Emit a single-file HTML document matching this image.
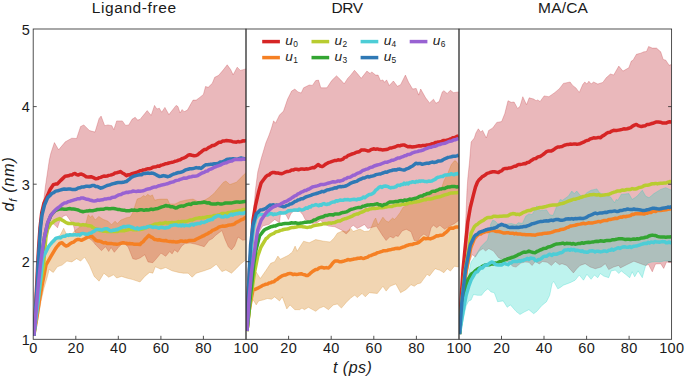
<!DOCTYPE html>
<html><head><meta charset="utf-8"><title>chart</title>
<style>
html,body{margin:0;padding:0;background:#fff;}
body{width:685px;height:377px;position:relative;overflow:hidden;font-family:"Liberation Sans",sans-serif;color:#1a1a1a;}
.t{position:absolute;white-space:nowrap;line-height:1;}
.ttl{font-size:15.5px;transform:translateX(-50%);top:0.3px;}
.xt{font-size:14.5px;transform:translateX(-50%);top:341.4px;letter-spacing:0.3px;margin-left:0.15px;}
.yt{font-size:14.5px;right:655.3px;transform:translateY(-50%);}
.lg{font-size:13.7px;font-style:italic;}
.lg sub{font-size:8.4px;font-style:normal;vertical-align:baseline;position:relative;top:1.7px;left:0.3px;}
.xl{font-size:16px;font-style:italic;letter-spacing:0.5px;transform:translateX(-50%);top:359.6px;left:352.7px;}
.yl{font-size:16px;font-style:italic;letter-spacing:0.85px;left:8.5px;top:183.9px;transform:translate(-50%,-50%) rotate(-90deg);}
.yl sub{font-size:11px;vertical-align:baseline;position:relative;top:3px;}
</style></head><body>

<svg width="685" height="377" viewBox="0 0 685 377" style="position:absolute;left:0;top:0">
<defs>
<clipPath id="c0"><rect x="33.2" y="29.0" width="212.8" height="310.3"/></clipPath>
<clipPath id="c1"><rect x="246.0" y="29.0" width="213.0" height="310.3"/></clipPath>
<clipPath id="c2"><rect x="459.0" y="29.0" width="212.6" height="310.3"/></clipPath>
</defs>
<g clip-path="url(#c0)">
<polygon points="33.8,335.8 36.0,300.0 38.0,262.0 40.0,235.0 42.0,215.0 45.3,187.0 49.3,160.0 50.9,153.0 54.4,142.6 58.6,149.8 65.3,141.8 71.8,138.2 76.6,138.5 80.6,126.5 83.8,124.9 89.4,130.5 95.0,132.1 99.1,118.5 101.1,116.1 104.7,125.7 107.9,124.9 111.9,125.7 113.8,129.7 116.7,120.9 122.3,120.9 125.6,125.4 128.8,124.9 132.0,119.3 135.2,117.3 137.6,120.1 140.0,119.4 147.2,110.6 151.2,115.4 154.5,105.4 156.9,109.0 159.3,108.2 161.7,112.2 164.9,107.4 168.9,114.6 176.1,105.4 178.0,106.6 180.1,113.0 182.1,109.5 184.2,111.7 187.4,110.1 193.0,100.1 196.2,100.1 199.4,97.7 203.4,94.5 205.5,86.5 208.2,87.3 212.3,83.3 214.7,77.3 218.7,75.3 223.5,69.6 227.2,64.8 230.7,69.6 233.1,74.8 237.2,67.2 240.4,70.4 246.3,68.8 246.3,239.5 242.8,240.3 238.0,237.0 234.7,245.9 231.5,249.9 228.3,246.7 225.1,239.5 221.9,230.6 215.5,235.4 212.3,238.7 209.1,240.3 204.2,246.7 196.2,244.3 190.0,243.0 185.0,243.5 181.8,245.9 177.7,252.3 174.5,249.9 172.1,253.9 169.7,251.5 165.7,256.3 160.9,253.1 157.7,257.1 152.8,262.7 148.0,261.9 144.8,254.7 140.0,258.0 136.0,259.5 132.8,258.7 128.0,246.7 123.1,242.7 118.3,247.5 114.3,252.3 111.1,247.5 108.7,251.5 105.5,246.7 101.5,250.7 95.8,245.0 92.6,241.0 83.0,233.8 75.0,232.2 74.2,228.2 73.3,225.1 71.5,222.5 69.8,219.9 66.3,215.0 62.8,216.4 59.3,222.5 57.5,227.8 54.9,225.1 50.5,220.8 47.0,228.0 44.0,245.0 41.5,265.0 39.0,290.0 36.0,318.0 33.8,335.8" fill="rgb(189,33,42)" fill-opacity="0.32" stroke="rgb(189,33,42)" stroke-opacity="0.35" stroke-width="0.7" stroke-linejoin="round"/>
<polygon points="33.8,335.8 37.0,310.0 40.0,285.0 43.0,265.0 46.0,252.0 50.0,245.0 55.0,240.0 60.5,234.6 63.7,228.2 66.9,235.4 70.0,236.0 75.0,230.4 80.0,227.0 85.8,223.5 88.2,214.8 90.5,217.1 92.3,215.4 95.2,220.0 98.7,216.5 103.4,219.5 108.0,221.2 111.5,224.7 115.0,221.2 117.4,223.5 120.9,220.0 126.7,217.7 130.2,217.1 132.6,213.0 134.9,206.0 137.2,199.0 140.7,197.8 143.7,195.5 145.4,196.7 147.7,194.3 150.1,196.1 152.4,194.9 154.7,200.2 157.1,199.6 160.9,199.1 167.3,199.1 169.7,203.9 175.0,204.0 180.1,201.5 186.6,199.9 193.0,199.1 197.8,201.5 204.0,200.5 209.1,197.5 213.9,193.5 218.7,187.8 223.5,182.2 225.9,181.1 229.9,184.6 236.4,182.2 242.8,175.8 246.3,172.4 246.3,259.5 241.2,263.5 236.4,268.4 231.5,273.2 225.9,270.0 221.9,271.6 216.3,264.3 210.7,268.4 204.2,270.8 196.2,273.2 192.2,277.2 188.2,273.2 183.4,273.2 178.5,272.4 172.1,270.8 165.7,267.6 160.9,269.2 155.3,266.8 152.8,273.2 149.6,272.4 144.8,276.4 140.0,282.0 132.8,279.6 126.4,278.0 121.5,276.4 116.7,278.0 113.5,274.8 108.7,277.2 103.9,273.2 99.1,281.2 94.2,276.4 89.4,265.1 84.6,257.1 80.6,261.1 76.6,258.7 71.8,261.9 66.9,261.1 62.1,265.1 57.3,266.8 53.3,272.4 51.0,271.0 49.3,269.0 47.0,278.0 44.0,288.0 41.3,300.0 38.0,318.0 33.8,335.8" fill="rgb(211,124,14)" fill-opacity="0.32" stroke="rgb(211,124,14)" stroke-opacity="0.35" stroke-width="0.7" stroke-linejoin="round"/>
<polyline points="33.8,335.8 35.0,316.0 36.0,298.0 37.0,280.0 37.8,262.0 38.8,245.0 40.0,228.0 41.7,213.0 44.0,203.0 46.9,196.7 47.7,195.1 50.1,189.5 53.3,184.7 55.3,184.1 57.3,183.9 58.9,182.3 60.5,180.6 62.1,179.1 65.1,176.2 66.8,176.0 68.4,175.8 70.1,175.0 71.8,175.1 73.4,173.9 75.0,173.5 76.6,174.6 78.2,175.1 79.8,174.3 81.4,174.0 83.8,175.1 86.2,176.7 88.6,177.1 91.0,176.7 93.4,177.7 95.8,178.8 97.4,178.6 99.0,177.7 100.7,177.4 102.3,176.7 103.9,176.1 105.5,176.2 107.1,176.1 108.7,175.4 110.3,175.1 111.9,174.7 113.5,174.1 115.1,172.9 116.7,172.7 118.5,172.3 120.3,171.5 122.3,172.9 124.4,174.1 126.4,175.6 128.0,174.7 129.6,174.9 131.2,174.0 132.8,173.5 134.6,173.0 136.4,172.5 138.2,171.7 140.0,170.8 141.6,170.8 143.2,169.9 144.8,169.8 146.4,169.1 148.0,168.7 149.6,168.7 151.2,168.3 152.9,167.2 154.5,166.9 156.1,166.8 157.7,166.0 159.3,166.2 160.9,165.2 162.5,164.9 164.1,164.3 165.7,163.7 167.3,163.5 168.9,163.0 170.5,162.6 172.1,162.3 173.7,161.8 175.3,161.2 176.9,160.9 178.6,160.1 180.2,159.7 181.8,158.7 183.4,158.2 185.0,157.5 186.6,156.5 188.2,155.2 189.8,154.7 191.9,155.3 194.1,155.7 196.2,155.5 197.8,154.7 199.4,153.2 201.0,152.1 202.6,150.7 204.2,149.6 205.8,149.4 207.5,148.4 209.1,147.3 210.7,146.7 212.3,145.5 213.9,145.4 215.5,144.7 217.1,143.5 219.0,142.3 220.8,142.2 222.7,141.1 224.6,140.9 226.4,140.5 228.3,140.7 230.4,140.9 232.6,141.7 234.7,141.9 236.3,142.2 238.0,141.5 239.6,141.9 241.3,141.6 242.9,140.7 244.6,140.9 246.3,140.3" fill="none" stroke="#d62525" stroke-width="3.5" stroke-linejoin="round" stroke-linecap="butt"/>
<polyline points="33.8,335.8 36.5,320.0 39.5,300.0 42.5,283.0 46.0,265.0 50.9,256.4 55.7,248.4 57.7,245.8 59.7,243.5 62.1,242.7 64.1,244.7 66.1,246.0 68.0,245.3 69.9,243.8 71.8,242.7 73.7,242.1 75.5,240.4 77.4,239.5 79.4,239.5 81.4,240.3 83.8,239.2 86.2,237.9 88.1,236.9 89.9,236.6 91.8,236.3 93.8,238.2 95.8,240.3 97.4,240.9 99.0,241.0 100.7,241.4 102.3,242.3 103.9,242.9 105.5,242.6 107.1,243.4 108.7,243.6 110.3,243.5 111.9,243.6 113.5,243.9 115.1,244.1 116.7,244.3 118.8,243.9 121.0,243.3 123.1,242.7 124.7,243.0 126.3,243.2 128.0,243.7 129.6,243.5 131.2,243.7 132.8,243.8 134.4,244.3 136.0,244.3 138.0,244.2 140.0,244.5 141.6,242.7 143.2,241.6 144.8,239.5 146.8,237.5 148.8,235.4 150.7,236.8 152.6,237.7 154.5,239.5 156.1,239.6 157.7,240.0 159.3,239.7 160.9,240.3 162.5,240.6 164.1,240.8 165.7,240.5 167.3,241.1 168.9,241.4 170.5,241.4 172.1,241.7 173.7,241.6 175.3,241.9 176.9,242.0 178.5,241.8 180.2,241.1 181.8,241.0 183.4,241.4 185.0,241.1 186.9,241.4 188.8,240.6 190.8,240.6 192.7,240.5 194.6,240.3 196.2,239.3 197.8,238.5 199.4,237.7 201.0,237.0 202.6,236.1 204.2,235.5 205.9,234.4 207.5,233.8 209.1,232.7 210.7,232.0 212.3,230.4 213.9,229.8 215.5,229.1 217.1,228.4 218.7,227.2 220.3,226.6 222.4,226.1 224.6,226.3 226.7,225.8 228.3,225.2 229.9,224.9 231.5,224.8 233.1,224.5 234.7,223.8 236.3,222.3 238.0,221.6 239.6,220.8 241.3,219.7 242.9,219.3 244.6,218.0 246.3,217.1" fill="none" stroke="#f58024" stroke-width="3.5" stroke-linejoin="round" stroke-linecap="butt"/>
<polyline points="33.8,335.8 36.0,318.0 38.0,300.0 40.5,283.0 43.7,265.0 44.5,253.0 46.0,237.0 47.7,229.0 50.9,223.5 52.5,222.8 54.1,221.1 55.7,220.3 57.7,219.3 59.7,218.6 61.7,219.9 63.7,221.0 66.1,222.6 68.5,223.5 70.1,223.6 71.7,223.6 73.4,223.6 75.0,224.2 76.6,224.3 78.2,224.2 79.8,224.9 81.4,225.0 83.0,224.6 84.6,225.0 86.2,225.0 87.8,225.7 89.4,225.8 91.0,225.9 92.6,227.4 94.2,228.3 96.1,228.9 98.1,229.4 100.0,230.5 101.8,230.6 103.5,231.3 105.2,231.0 107.0,231.5 108.6,231.4 110.2,231.4 111.9,231.4 113.5,231.5 115.4,231.3 117.3,231.6 119.3,230.7 121.2,230.4 123.1,230.7 124.7,230.7 126.3,230.2 128.0,229.9 129.6,229.1 131.4,229.2 133.2,229.8 135.0,229.5 136.7,229.9 138.3,229.3 140.0,229.6 141.6,229.3 143.2,228.9 144.8,228.2 146.4,227.5 148.0,227.0 149.6,226.2 151.2,225.7 152.9,225.0 154.5,224.2 156.1,224.0 158.1,223.8 160.1,223.3 162.0,223.5 164.0,223.0 165.6,222.5 167.2,223.1 168.9,222.8 170.5,222.9 172.1,222.4 173.7,222.7 175.3,222.6 176.9,222.2 178.6,221.6 180.2,222.1 181.8,221.5 183.4,221.5 185.0,221.6 186.9,221.2 188.7,220.6 190.6,219.9 192.5,219.9 194.3,219.0 196.2,218.4 197.8,218.1 199.4,217.8 201.0,218.1 202.6,217.6 204.3,217.7 205.9,217.1 207.5,216.7 209.1,216.8 210.7,216.5 212.3,216.4 213.9,215.4 215.5,215.6 217.1,215.3 218.7,214.9 220.3,214.5 221.9,213.4 223.5,213.5 225.1,213.4 226.7,213.4 228.3,212.5 229.9,212.7 231.5,212.1 233.2,211.7 234.8,211.5 236.4,211.1 238.1,210.8 239.7,210.5 241.4,210.5 243.0,209.6 244.7,209.4 246.3,209.5" fill="none" stroke="#b8cc30" stroke-width="3.5" stroke-linejoin="round" stroke-linecap="butt"/>
<polyline points="33.8,335.8 35.5,318.0 37.0,300.0 38.5,283.0 40.4,265.0 42.0,253.0 44.5,237.0 47.7,223.0 50.9,215.5 52.5,213.4 54.1,211.7 55.7,210.3 58.5,209.3 60.3,208.7 62.1,208.9 64.2,209.3 66.4,209.2 68.5,208.8 70.1,208.6 71.7,209.1 73.4,209.1 75.0,209.3 76.6,209.6 78.2,210.0 79.8,210.8 81.4,211.3 83.0,211.7 84.6,211.4 86.2,211.1 87.8,211.0 89.4,210.6 91.0,210.8 92.6,210.8 94.2,210.4 95.8,210.0 97.4,209.5 99.0,209.4 100.7,209.3 102.3,209.2 103.9,209.2 105.5,208.5 107.1,208.4 108.7,208.8 110.3,208.7 111.9,208.6 113.5,208.6 115.1,208.8 116.7,209.1 118.3,209.6 119.9,209.6 121.6,210.1 123.2,210.2 124.8,210.3 126.4,210.8 128.1,210.7 129.8,210.7 131.5,210.0 133.2,210.2 134.9,210.1 136.6,210.4 138.3,210.3 140.0,209.8 141.6,209.7 143.2,210.2 144.8,210.2 146.4,209.7 148.0,210.0 149.6,209.7 151.2,209.1 152.9,209.5 154.5,209.1 156.1,208.7 158.0,208.4 159.9,207.7 161.9,206.9 163.8,206.4 165.7,205.5 167.3,206.0 168.9,205.9 170.5,206.8 172.1,206.7 173.7,207.2 175.3,207.9 176.9,207.7 178.5,206.7 180.2,206.3 181.8,205.9 183.4,206.2 185.0,205.5 186.9,204.7 188.8,204.1 190.8,204.4 192.7,203.2 194.6,203.1 196.5,203.2 198.4,202.8 200.4,202.7 202.3,202.6 204.2,202.0 205.8,202.5 207.4,203.0 209.1,202.7 210.7,203.8 212.3,203.9 214.2,203.9 216.0,204.0 217.9,203.4 219.8,203.9 221.6,204.0 223.5,203.6 225.4,203.0 227.3,203.0 229.3,203.1 231.2,203.1 233.1,202.6 234.8,202.2 236.4,202.0 238.1,202.0 239.7,202.2 241.3,202.1 243.0,201.7 244.7,201.5 246.3,201.5" fill="none" stroke="#33a532" stroke-width="3.5" stroke-linejoin="round" stroke-linecap="butt"/>
<polyline points="33.8,335.8 36.0,318.0 38.3,300.0 40.5,280.0 42.0,265.0 42.8,258.0 46.0,251.6 48.5,246.8 49.8,245.0 51.2,243.3 52.5,241.9 54.1,240.4 55.7,238.5 57.3,237.9 58.9,237.5 60.5,237.9 62.1,236.6 63.7,236.3 65.3,236.3 66.9,234.9 68.5,235.4 70.1,234.7 71.4,235.1 72.8,235.0 74.2,234.7 75.5,234.7 76.8,234.9 78.2,234.7 79.8,235.2 81.4,233.7 83.0,233.4 84.6,233.9 86.2,234.1 87.8,234.2 89.4,233.3 91.0,233.1 92.6,231.9 94.2,231.3 95.8,229.9 97.1,229.4 98.4,229.5 99.7,229.4 101.0,230.0 102.3,229.9 103.9,229.2 105.5,228.7 107.1,228.8 108.7,229.8 110.3,230.8 111.9,230.7 113.2,230.0 114.6,230.2 115.9,229.4 117.2,229.7 118.6,228.8 119.9,228.3 121.2,227.6 122.6,227.1 124.0,226.4 125.3,226.9 126.7,226.4 128.0,226.2 129.6,226.2 131.2,227.0 132.8,227.5 134.4,228.3 135.8,228.8 137.2,227.8 138.6,229.3 140.0,228.5 141.3,228.1 142.7,228.0 144.0,227.4 145.3,227.7 146.7,227.3 148.0,226.4 149.3,226.6 150.7,226.6 152.1,227.2 153.4,227.5 154.8,226.9 156.1,227.2 157.4,227.7 158.8,228.2 160.1,227.5 161.4,227.3 162.8,227.4 164.1,228.0 165.4,228.0 166.8,227.5 168.1,227.6 169.4,227.0 170.8,225.6 172.1,225.6 173.4,225.0 174.8,225.0 176.1,224.8 177.4,225.6 178.8,225.8 180.1,225.1 181.4,225.9 182.8,224.9 184.1,226.0 185.5,225.1 186.8,225.4 188.2,225.6 189.5,225.7 190.9,224.4 192.2,224.1 193.5,225.1 194.9,223.9 196.2,224.0 197.5,223.5 198.9,223.6 200.2,223.5 201.5,222.1 202.9,222.4 204.2,222.4 205.5,221.7 206.8,221.3 208.1,220.2 209.4,220.3 210.7,219.6 212.3,219.5 213.9,217.6 215.5,217.0 217.1,216.0 218.7,215.6 220.3,216.2 221.9,217.1 223.5,217.1 225.1,215.9 226.7,216.8 228.3,216.3 229.9,215.1 231.2,214.1 232.5,215.2 233.8,213.9 235.1,214.3 236.4,213.5 237.8,213.8 239.2,212.9 240.6,213.5 242.1,213.3 243.5,213.4 244.9,212.4 246.3,212.7" fill="none" stroke="#4dcdd6" stroke-width="3.5" stroke-linejoin="round" stroke-linecap="butt"/>
<polyline points="33.8,335.8 35.0,318.0 36.2,300.0 37.3,282.0 38.0,265.0 39.2,247.0 40.4,229.0 42.0,215.0 44.5,205.0 47.7,197.6 49.7,195.8 51.7,193.5 53.7,192.7 55.7,191.1 57.8,190.7 60.0,190.1 62.1,189.5 64.2,189.0 66.4,189.2 68.5,189.0 70.1,189.0 71.8,189.4 73.4,189.5 75.0,189.5 76.6,189.0 78.2,188.0 79.8,187.8 81.4,187.1 83.5,187.0 85.7,186.3 87.8,186.3 89.4,186.5 91.0,186.0 92.6,185.4 94.2,185.5 95.8,186.6 97.5,186.5 99.1,187.4 100.7,188.2 102.8,187.5 105.0,186.5 107.1,185.5 108.7,185.1 110.3,184.7 111.9,184.0 113.5,183.6 115.1,183.2 116.7,182.8 118.3,182.5 119.9,182.6 121.5,182.5 123.2,182.3 124.8,181.8 126.4,181.5 128.8,179.7 131.2,177.5 132.8,176.7 134.4,176.0 136.0,175.6 138.0,175.1 140.0,174.8 141.6,174.7 143.2,173.6 144.8,173.6 146.4,173.2 148.0,173.0 149.6,173.4 151.2,173.1 152.8,173.2 154.4,173.8 156.1,174.7 157.7,175.6 159.3,176.4 161.3,176.2 163.3,175.6 165.3,176.0 167.3,176.7 169.7,176.1 172.1,174.8 173.7,174.0 175.3,173.6 176.9,173.0 178.5,172.5 180.1,172.4 181.7,172.0 183.3,171.3 185.0,170.2 186.6,169.6 188.2,169.2 189.8,168.8 191.4,168.8 193.0,168.5 194.6,168.1 196.2,167.6 197.8,167.9 199.4,167.8 201.0,168.4 202.6,167.1 204.2,165.7 205.8,164.8 207.4,164.7 209.1,164.6 210.7,164.2 212.3,164.3 214.4,163.7 216.6,163.8 218.7,163.2 220.3,162.0 221.9,162.0 223.5,161.3 225.1,160.6 226.7,159.5 228.3,159.2 229.9,159.1 231.5,159.0 233.1,158.7 234.7,158.9 236.4,159.3 238.0,159.0 241.2,157.9 242.9,158.6 244.6,158.8 246.3,159.5" fill="none" stroke="#2f79b5" stroke-width="3.5" stroke-linejoin="round" stroke-linecap="butt"/>
<polyline points="33.8,335.8 35.5,318.0 37.0,300.0 38.5,283.0 40.4,265.0 42.0,253.0 44.5,237.0 47.7,222.7 50.9,215.0 52.5,213.5 54.1,211.4 55.7,209.6 57.8,208.0 60.0,206.4 62.1,204.5 64.2,203.1 66.4,202.8 68.5,201.6 70.1,201.2 71.8,200.6 73.4,200.1 75.0,199.6 76.6,199.2 78.2,198.7 79.8,198.7 81.4,197.9 83.0,198.0 84.9,198.6 86.8,199.3 88.8,199.6 90.7,200.3 92.6,200.8 94.2,201.1 95.8,200.8 97.5,200.0 99.1,200.4 100.7,200.0 102.6,199.8 104.5,199.0 106.5,198.9 108.4,198.5 110.3,198.4 111.9,197.4 113.5,197.2 115.1,197.0 116.7,196.0 118.8,194.9 121.0,194.5 123.1,193.2 124.7,193.0 126.3,192.2 128.0,192.5 129.6,191.9 131.2,191.8 132.8,191.1 134.6,191.3 136.4,191.4 138.2,191.1 140.0,191.3 141.6,191.1 143.2,190.8 144.8,190.2 146.4,189.4 148.0,189.0 149.6,188.8 151.2,188.2 152.9,187.4 154.5,187.0 156.1,187.0 158.1,186.0 160.1,185.5 162.0,184.9 164.0,184.6 165.6,184.1 167.2,183.8 168.9,183.1 170.5,182.5 172.1,182.1 173.7,181.7 175.3,180.8 176.9,180.4 178.6,180.1 180.2,179.3 181.8,178.8 183.7,178.1 185.6,178.3 187.6,177.7 189.5,177.0 191.4,176.7 193.0,176.3 194.6,176.2 196.2,176.0 197.8,175.6 199.9,174.3 202.1,173.0 204.2,172.4 205.8,171.3 207.4,171.1 209.1,169.7 210.7,169.2 212.3,168.4 213.9,167.5 215.5,166.8 217.1,166.1 218.7,165.7 220.3,165.1 222.4,164.0 224.6,163.1 226.7,162.7 228.3,161.8 229.9,161.3 231.6,161.1 233.2,160.2 234.8,159.6 236.4,159.5 238.1,159.4 239.7,159.3 241.4,159.5 243.0,158.9 244.7,159.2 246.3,159.2" fill="none" stroke="#9862d2" stroke-width="3.5" stroke-linejoin="round" stroke-linecap="butt"/>
</g>
<g clip-path="url(#c1)">
<polygon points="247.0,331.0 248.5,300.0 250.0,265.0 252.0,230.0 255.4,190.0 257.8,171.8 261.1,158.9 265.9,142.8 269.1,135.0 271.5,128.0 273.6,120.8 275.5,123.2 279.5,115.1 283.5,111.1 287.6,99.1 291.6,91.1 294.8,89.1 298.0,91.9 301.2,93.0 303.6,87.8 309.2,85.0 312.4,85.4 315.7,80.6 318.5,80.1 320.8,87.8 326.9,87.8 331.7,80.6 336.5,75.8 340.6,79.8 344.2,83.8 347.8,78.2 350.0,75.9 354.5,70.3 358.0,74.3 361.2,78.3 366.9,71.1 370.1,73.5 371.7,71.9 375.7,75.1 378.1,75.1 380.5,80.7 382.9,79.9 384.5,82.3 386.6,79.9 389.3,85.5 393.4,81.0 397.4,86.3 400.6,84.7 405.4,75.1 408.6,82.3 412.6,89.0 416.2,88.4 418.7,95.1 420.7,89.0 425.5,97.6 429.5,102.9 433.5,99.2 435.9,103.2 439.1,101.6 442.3,91.9 443.9,90.7 447.2,93.5 450.4,90.3 453.6,92.7 458.7,91.9 458.7,220.4 454.4,223.7 449.6,226.1 444.7,229.3 439.9,225.3 436.7,227.7 433.5,225.3 431.1,227.7 428.7,237.3 423.9,234.1 420.7,236.5 417.4,241.3 414.2,240.5 411.0,231.7 406.2,229.3 402.2,230.9 398.2,236.5 395.8,235.7 393.4,238.1 390.1,236.5 386.1,240.5 382.1,234.9 376.5,226.1 370.9,227.7 367.7,228.5 364.5,224.5 360.0,227.0 357.2,228.5 353.2,225.3 350.0,228.0 349.4,230.8 346.2,234.0 341.4,230.0 334.9,226.8 328.5,226.0 323.7,223.5 320.5,220.3 317.3,222.7 312.4,223.5 305.2,219.5 302.8,214.7 300.0,211.5 293.0,211.5 290.8,213.9 288.4,219.5 286.0,214.7 283.0,212.5 280.3,215.5 279.5,222.7 274.7,219.5 269.1,224.3 262.7,226.0 259.0,232.0 256.0,245.0 253.0,270.0 250.0,300.0 247.0,331.0" fill="rgb(189,33,42)" fill-opacity="0.32" stroke="rgb(189,33,42)" stroke-opacity="0.35" stroke-width="0.7" stroke-linejoin="round"/>
<polygon points="247.0,331.0 249.0,310.0 252.2,288.2 253.8,278.5 256.2,272.1 260.3,278.5 265.9,270.5 270.7,263.3 274.7,261.7 277.9,256.1 280.3,259.3 288.4,255.3 292.4,252.0 295.1,246.1 297.2,251.2 301.2,244.8 303.6,241.2 309.2,242.8 315.7,239.6 323.7,241.2 330.1,242.0 334.1,238.0 337.3,233.2 343.0,230.8 346.2,232.0 351.0,228.4 353.0,231.5 357.2,230.0 360.0,229.0 364.5,231.5 369.3,230.9 371.0,228.0 374.1,220.4 375.7,218.0 378.1,225.0 380.5,221.0 382.9,217.2 386.0,221.0 388.5,222.0 392.6,218.0 394.5,219.5 396.6,217.2 399.8,213.0 403.0,207.4 410.0,204.0 417.4,201.0 428.7,192.1 436.7,189.7 441.5,188.1 443.9,180.9 448.0,172.8 451.2,164.8 454.4,160.8 456.0,161.1 458.7,165.0 458.7,267.0 454.4,266.2 450.4,271.1 447.2,268.7 443.9,272.7 439.9,270.3 435.1,268.7 429.5,275.9 427.1,274.3 420.7,283.1 417.4,283.9 414.2,286.3 411.0,284.7 406.2,289.5 400.6,292.7 395.8,283.9 390.1,286.3 386.1,291.1 382.9,286.3 377.3,293.5 369.3,292.7 365.3,296.8 362.0,293.5 357.2,297.6 354.8,295.1 351.0,297.7 346.2,302.5 341.4,308.1 337.3,304.1 333.3,304.9 328.5,309.7 323.7,306.5 319.7,308.1 315.7,311.3 308.4,307.3 304.4,309.7 302.0,308.1 299.6,309.7 294.8,309.7 290.0,304.9 286.8,308.9 282.3,296.9 279.5,300.9 274.7,296.9 271.5,299.3 267.5,298.5 262.7,300.1 258.7,300.9 256.2,304.9 253.8,300.9 251.4,297.7 249.5,312.0 247.0,331.0" fill="rgb(211,124,14)" fill-opacity="0.32" stroke="rgb(211,124,14)" stroke-opacity="0.35" stroke-width="0.7" stroke-linejoin="round"/>
<polyline points="247.0,331.0 248.0,300.0 249.5,270.0 251.4,245.0 253.0,220.3 255.4,205.9 258.7,191.5 261.1,183.0 263.5,179.7 265.9,176.6 267.5,175.2 269.1,175.0 270.7,173.3 272.3,172.6 274.2,172.5 276.1,173.0 278.1,173.0 280.0,173.6 281.9,173.7 283.5,173.0 285.1,172.2 286.8,171.6 288.4,171.4 290.0,171.1 291.6,170.1 293.2,170.1 294.8,169.3 296.7,169.3 298.6,169.7 300.6,169.1 302.5,169.1 304.4,169.3 306.0,168.8 307.6,169.0 309.2,168.6 310.9,168.1 312.5,167.6 314.1,167.7 316.1,166.3 318.1,164.5 320.1,166.0 322.1,166.6 323.7,165.8 325.3,164.4 326.9,163.5 328.5,162.6 330.1,162.1 332.2,161.3 334.4,160.6 336.5,160.5 338.1,159.8 339.8,160.1 341.4,159.7 343.0,159.1 344.6,157.4 346.2,157.1 347.8,155.7 349.9,154.8 352.0,154.0 354.2,153.4 356.4,152.3 358.0,152.1 359.6,151.5 361.2,150.1 362.8,149.9 364.4,149.9 366.1,150.4 367.7,150.9 369.3,150.7 370.9,149.7 372.5,149.2 374.1,148.8 375.7,149.3 377.3,148.9 378.9,149.4 380.5,149.5 382.1,149.9 384.2,149.7 386.4,149.6 388.5,148.8 390.1,148.0 391.7,147.9 393.4,147.4 395.0,147.0 396.6,146.2 398.2,145.6 399.8,145.9 401.4,145.2 403.0,145.1 404.6,145.1 407.8,146.7 409.9,146.5 412.1,147.0 414.2,146.7 415.8,146.5 417.4,146.1 419.1,145.7 420.7,146.0 422.3,145.6 423.9,145.5 425.5,145.4 427.1,144.9 428.7,144.8 430.3,144.6 431.9,143.7 433.5,143.7 435.1,142.6 436.7,142.4 438.3,141.9 439.9,141.8 441.5,141.4 443.2,140.6 444.8,140.4 446.4,140.3 448.0,140.0 449.6,139.2 451.2,138.8 452.8,137.8 454.8,137.5 456.7,136.5 458.7,135.9" fill="none" stroke="#d62525" stroke-width="3.5" stroke-linejoin="round" stroke-linecap="butt"/>
<polyline points="247.0,331.0 249.0,312.0 251.4,298.0 253.0,289.8 254.6,289.6 256.2,288.9 257.8,288.2 259.4,287.3 261.0,286.5 262.7,285.4 264.3,284.9 265.9,284.2 267.5,284.1 269.1,282.9 270.7,282.8 272.3,281.9 273.9,281.8 275.5,280.2 277.1,279.5 278.7,277.9 280.3,276.9 281.9,275.9 283.5,275.3 285.2,275.1 286.8,274.4 288.4,273.7 290.0,273.4 291.6,273.8 293.2,274.6 294.8,274.1 296.4,274.5 298.0,274.3 299.6,273.9 301.2,273.7 302.8,274.4 304.4,274.7 306.0,275.4 307.6,275.6 309.2,274.4 310.9,272.8 312.5,271.5 314.1,270.5 315.7,269.5 317.3,269.5 318.9,268.2 320.5,267.5 322.1,267.3 324.2,268.0 326.4,267.6 328.5,268.1 330.6,266.1 332.8,262.9 334.9,260.9 336.5,261.1 338.1,261.1 339.8,261.8 341.4,261.7 343.0,261.3 344.6,260.8 346.2,260.4 347.8,259.6 349.9,259.9 352.0,259.6 354.0,259.0 356.0,258.8 358.0,258.2 359.6,258.2 361.2,257.8 362.9,258.5 364.5,258.2 366.1,257.6 367.7,257.1 369.3,255.9 370.9,255.6 372.5,254.8 374.1,254.2 375.7,253.8 377.3,252.7 378.9,252.4 380.5,251.9 382.1,251.4 383.7,250.7 385.3,250.7 387.0,250.6 388.6,249.9 390.2,249.8 391.8,249.3 393.7,249.1 395.6,248.4 397.6,248.2 399.5,248.5 401.4,247.7 403.0,247.0 404.6,246.6 406.2,245.7 407.8,245.3 409.4,244.7 411.0,244.5 412.6,244.4 414.2,243.7 415.9,243.4 417.5,243.0 419.1,242.1 421.5,240.2 423.9,238.1 425.5,238.7 427.1,238.5 428.7,238.6 430.3,238.9 432.4,238.2 434.6,237.1 436.7,235.7 438.3,235.9 439.9,235.3 441.5,235.3 443.1,234.9 444.7,233.2 446.4,232.1 448.0,230.5 449.6,228.5 451.4,228.0 453.2,228.3 455.1,227.3 456.9,226.9 458.7,226.9" fill="none" stroke="#f58024" stroke-width="3.5" stroke-linejoin="round" stroke-linecap="butt"/>
<polyline points="247.0,331.0 249.5,308.0 252.2,288.0 254.6,272.0 257.8,256.0 261.0,247.0 265.9,238.8 267.5,237.7 269.1,235.9 270.7,234.8 272.3,234.0 273.9,233.3 275.5,232.0 277.1,231.6 278.7,231.3 280.3,230.4 281.9,230.1 283.5,229.5 285.1,229.2 286.7,229.1 288.3,228.8 290.0,228.0 291.6,227.6 293.2,227.6 294.8,227.2 296.4,227.0 298.0,226.5 299.6,226.3 301.2,226.4 302.8,226.8 304.4,226.9 306.0,227.2 307.6,227.4 309.2,227.1 310.8,227.0 312.4,226.2 314.1,225.6 315.7,225.3 317.3,225.1 318.9,224.7 320.5,224.5 322.1,224.2 323.7,223.7 325.3,223.5 326.9,223.7 328.5,223.0 330.1,223.0 331.7,223.2 333.3,222.7 334.9,222.5 336.5,221.6 338.2,221.0 339.8,221.1 341.4,220.3 343.0,219.3 344.6,218.8 346.2,218.5 347.8,217.9 350.0,217.0 351.6,216.4 353.2,215.4 354.8,214.6 356.4,214.1 358.0,213.9 359.6,213.0 361.2,212.2 362.9,211.8 364.5,210.9 366.1,209.8 367.9,210.0 369.7,208.9 371.4,208.7 373.2,208.3 375.0,208.5 376.8,208.3 378.5,208.0 380.2,207.6 382.0,207.8 383.6,207.6 385.2,207.0 386.9,206.9 388.5,206.6 390.1,206.6 391.7,206.6 393.3,205.9 394.9,205.5 396.6,205.0 398.2,205.0 399.8,204.9 401.4,204.7 403.0,204.2 404.9,204.2 406.7,203.8 408.6,202.9 410.5,202.5 412.3,202.7 414.2,202.1 415.8,202.0 417.4,201.5 419.0,201.4 420.7,200.8 422.3,200.3 423.9,199.8 425.5,199.8 427.4,198.9 429.2,199.1 431.1,198.9 433.0,198.5 434.8,197.7 436.7,197.3 438.3,197.0 439.9,196.8 441.5,196.2 443.2,195.5 444.8,194.9 446.4,194.5 448.0,194.1 449.6,193.4 451.2,193.0 452.8,192.9 454.8,192.8 456.7,192.8 458.7,192.1" fill="none" stroke="#b8cc30" stroke-width="3.5" stroke-linejoin="round" stroke-linecap="butt"/>
<polyline points="247.0,331.0 249.5,305.0 252.2,280.0 253.8,264.0 256.0,250.0 259.5,236.0 261.1,234.0 262.7,231.9 264.3,230.0 266.4,228.8 268.6,227.8 270.7,226.8 272.3,226.6 273.9,225.9 275.5,225.9 277.1,225.1 278.7,224.5 280.3,224.3 281.9,224.2 283.5,223.7 285.1,223.5 286.7,223.6 288.4,223.4 290.0,223.3 291.6,222.7 293.7,223.1 295.9,222.8 298.0,223.5 299.6,223.3 301.2,223.1 302.8,222.8 304.4,222.3 306.0,222.3 308.1,222.1 310.3,221.9 312.4,221.1 314.0,219.9 315.6,219.7 317.3,218.6 318.9,217.9 320.5,217.3 322.1,217.1 323.7,216.5 325.3,215.5 327.4,215.4 329.6,214.7 331.7,214.7 333.3,214.9 334.9,214.0 336.5,214.0 338.1,213.9 339.7,213.8 341.4,212.9 343.0,212.5 344.6,212.3 346.4,211.9 348.2,211.0 350.0,209.8 351.6,209.2 353.2,208.9 354.8,208.4 356.4,207.9 358.0,207.6 359.6,207.4 361.2,207.4 362.8,206.2 364.5,206.0 366.1,205.5 367.7,205.0 369.3,205.0 370.9,204.8 372.5,204.7 374.1,204.5 375.7,204.1 377.3,203.7 378.9,204.7 380.5,204.7 382.1,205.8 384.2,204.5 386.4,204.1 388.5,202.6 390.1,202.0 391.7,202.0 393.4,202.0 395.0,201.6 396.6,201.6 398.2,201.4 399.8,200.7 401.4,200.6 403.0,201.0 404.6,200.0 406.2,200.4 407.8,199.8 409.7,199.1 411.6,199.4 413.6,198.7 415.5,198.3 417.4,197.7 419.0,196.7 420.6,196.0 422.3,196.0 423.9,194.8 425.5,194.5 427.1,193.6 428.7,193.5 430.3,192.9 431.9,191.5 433.5,191.3 435.1,191.2 436.7,190.4 438.3,189.8 439.9,189.0 441.5,188.9 443.1,188.4 444.7,188.6 446.4,187.6 448.0,187.0 449.6,187.0 451.4,186.6 453.2,186.5 455.1,186.6 456.9,187.0 458.7,186.5" fill="none" stroke="#33a532" stroke-width="3.5" stroke-linejoin="round" stroke-linecap="butt"/>
<polyline points="247.0,331.0 248.5,300.0 250.0,270.0 251.5,245.0 253.5,228.0 255.5,219.0 257.8,215.5 259.4,214.5 261.1,214.4 262.7,214.7 264.3,215.2 265.9,215.1 267.5,214.9 269.1,213.9 270.4,213.5 271.8,213.7 273.1,214.7 274.4,213.9 275.8,214.2 277.1,213.9 278.7,213.4 280.3,212.7 281.9,213.0 283.5,213.1 285.1,212.7 286.8,212.0 288.4,210.7 289.7,210.7 291.1,210.4 292.4,210.4 293.7,210.1 295.1,210.1 296.4,209.9 297.7,210.3 299.1,209.1 300.4,209.7 301.7,210.1 303.1,209.8 304.4,209.1 306.0,207.8 307.6,208.3 309.2,206.7 310.6,207.0 311.9,205.6 313.2,205.5 314.6,205.1 315.9,204.6 317.3,205.1 318.6,205.8 320.0,204.7 321.3,205.3 322.6,203.9 324.0,203.6 325.3,204.3 326.6,204.5 328.0,204.0 329.3,203.9 330.6,203.0 332.0,202.3 333.3,201.9 334.6,202.1 336.0,200.7 337.4,201.2 338.7,200.7 340.0,200.0 341.4,200.3 343.0,200.3 344.6,199.6 346.2,199.7 347.8,199.5 350.0,200.1 351.3,199.7 352.7,199.4 354.0,199.3 355.3,199.5 356.7,199.9 358.0,198.9 359.4,199.3 360.7,198.7 362.1,198.3 363.4,197.0 364.8,197.8 366.1,196.6 367.7,195.5 369.3,194.5 370.9,194.4 372.5,193.7 374.1,192.5 375.7,190.2 377.3,189.1 378.9,187.3 380.5,186.6 382.1,187.4 383.7,186.2 385.3,186.0 386.6,186.2 388.0,186.6 389.4,187.4 390.7,187.9 392.0,187.4 393.4,187.6 394.7,187.0 396.1,186.7 397.4,185.3 398.7,185.3 400.1,185.5 401.4,184.4 402.8,184.6 404.1,183.1 405.5,184.2 406.9,183.1 408.3,183.9 409.6,182.5 411.0,182.5 412.4,181.7 413.7,182.0 415.1,182.4 416.4,181.3 417.8,181.8 419.1,180.9 420.4,181.4 421.8,180.9 423.1,181.0 424.4,181.4 425.8,181.4 427.1,181.7 428.7,181.1 430.3,181.2 431.9,181.1 433.5,180.1 435.1,179.4 436.7,177.9 438.3,177.2 439.9,176.9 441.3,176.4 442.7,176.5 444.1,175.4 445.4,175.0 446.8,175.1 448.2,174.7 449.6,174.8 451.1,173.7 452.6,174.3 454.1,174.7 455.7,173.8 457.2,173.9 458.7,173.2" fill="none" stroke="#4dcdd6" stroke-width="3.5" stroke-linejoin="round" stroke-linecap="butt"/>
<polyline points="247.0,331.0 248.0,300.0 249.3,270.0 250.6,245.0 253.0,225.1 256.2,213.9 258.2,212.2 260.3,209.9 262.2,209.7 264.0,209.2 265.9,208.3 267.9,206.6 269.9,205.1 271.7,205.3 273.5,204.8 275.3,205.4 277.1,205.1 279.2,205.5 281.4,206.1 283.5,206.7 285.1,206.5 286.8,205.4 288.4,205.1 290.0,204.0 291.6,203.8 293.2,202.8 294.8,201.5 296.4,201.1 298.0,200.0 299.6,199.6 301.2,198.7 302.8,198.8 304.4,197.8 306.0,196.9 307.6,196.3 309.2,195.8 310.8,195.3 312.4,194.6 314.0,194.1 315.6,193.8 317.3,193.3 318.9,192.6 320.5,192.2 322.1,191.4 323.7,191.7 325.3,190.9 326.9,189.9 328.5,189.8 330.6,189.1 332.8,188.7 334.9,187.8 336.5,188.0 338.1,186.9 339.8,186.6 341.4,186.7 343.0,186.4 344.6,186.2 346.4,185.7 348.2,184.8 350.0,183.6 351.6,182.8 353.2,182.2 354.8,181.8 356.4,181.4 358.0,180.4 359.6,179.5 361.2,179.0 362.9,178.1 364.5,178.0 366.1,177.2 367.7,176.5 369.3,177.0 370.9,176.3 372.5,176.0 374.1,175.6 375.7,174.7 377.3,174.4 378.9,174.1 380.5,174.0 382.1,173.2 383.7,172.8 385.3,172.0 386.9,172.2 388.5,171.4 390.1,170.8 391.7,170.5 393.3,169.9 395.0,169.7 396.6,169.9 398.2,169.2 399.8,169.1 401.4,169.6 403.0,169.9 404.6,170.0 406.7,168.8 408.9,168.1 411.0,166.8 412.6,166.0 414.2,164.7 415.8,163.2 417.4,163.7 419.1,163.5 420.7,163.6 422.3,164.3 423.9,163.9 425.5,163.5 427.1,163.1 428.7,163.4 430.3,162.7 432.2,162.1 434.1,162.4 436.1,162.1 438.0,161.1 439.9,161.1 441.5,160.8 443.1,159.7 444.8,158.8 446.4,158.2 448.0,157.4 449.6,157.1 451.4,156.7 453.2,156.2 455.1,156.3 456.9,155.9 458.7,155.2" fill="none" stroke="#2f79b5" stroke-width="3.5" stroke-linejoin="round" stroke-linecap="butt"/>
<polyline points="247.0,331.0 249.0,300.0 251.5,272.0 255.4,245.0 257.8,230.0 261.1,220.3 265.9,213.1 267.5,211.3 269.1,210.2 270.7,208.8 272.3,207.5 273.9,206.6 275.5,206.0 277.1,205.4 278.7,205.1 280.3,204.3 281.9,203.4 283.6,202.4 285.2,201.6 286.8,201.1 288.9,199.7 291.1,198.4 293.2,197.0 294.8,195.8 296.4,195.3 298.0,193.9 299.6,193.3 301.2,192.2 302.8,191.7 304.4,190.6 306.0,190.5 307.6,189.5 309.2,189.0 312.4,187.0 314.0,186.6 315.6,186.3 317.2,185.9 318.9,185.3 320.5,184.6 322.1,184.6 324.0,184.4 325.9,184.0 327.9,183.2 329.8,182.8 331.7,182.2 333.3,181.7 334.9,182.0 336.5,181.6 338.2,180.9 339.8,181.2 341.4,180.6 343.0,180.2 344.6,178.9 346.2,178.6 347.8,177.4 350.0,177.2 351.6,176.4 353.2,175.3 354.8,175.0 356.4,173.9 358.0,173.2 359.6,172.6 361.2,171.7 362.9,170.4 364.5,170.0 366.1,169.2 367.7,168.9 369.3,167.9 370.9,167.3 372.5,167.0 374.1,166.0 375.7,165.5 377.3,165.0 378.9,164.6 380.5,164.3 382.1,163.5 383.7,162.8 385.3,162.2 386.9,162.3 388.5,161.6 390.1,161.1 391.7,160.3 393.3,160.2 395.0,159.5 396.6,158.6 398.2,157.9 399.8,157.9 401.4,157.2 403.0,156.7 404.6,155.8 406.2,155.5 407.8,154.4 409.4,154.4 411.0,153.8 412.6,152.8 414.2,152.3 415.8,151.9 417.4,151.6 419.1,150.9 420.7,150.7 422.3,150.3 423.9,149.6 425.5,148.8 427.1,148.3 429.0,147.4 430.9,147.3 432.9,146.5 434.8,146.3 436.7,145.6 438.3,144.8 439.9,144.5 441.5,143.9 443.2,143.6 444.8,143.3 446.4,142.7 448.2,141.8 449.9,141.2 451.7,141.0 453.4,140.1 455.2,139.8 456.9,139.0 458.7,138.7" fill="none" stroke="#9862d2" stroke-width="3.5" stroke-linejoin="round" stroke-linecap="butt"/>
</g>
<g clip-path="url(#c2)">
<polygon points="459.5,334.0 461.5,300.0 463.5,265.0 465.5,225.0 467.0,190.0 467.8,178.2 469.5,162.1 471.1,142.0 474.3,138.0 475.9,133.0 478.3,128.8 480.7,132.0 482.6,130.4 486.3,138.0 488.7,130.4 492.7,128.0 496.8,122.4 501.6,121.6 504.8,113.5 508.0,100.7 511.2,102.3 514.1,102.0 517.6,108.4 520.0,106.3 522.8,96.7 526.5,104.7 529.2,97.8 533.7,99.1 536.1,100.7 537.7,99.9 540.1,101.5 544.1,95.9 548.9,96.7 554.6,92.7 559.4,88.7 563.4,83.4 570.1,82.0 572.6,85.4 575.9,87.9 579.3,92.4 582.7,84.6 584.8,82.0 586.9,84.0 588.9,81.2 591.1,84.0 593.6,82.0 597.8,84.0 602.8,82.4 606.2,77.8 610.4,74.0 613.7,75.0 618.8,66.1 622.9,71.1 628.8,67.8 631.3,61.1 633.0,60.2 636.4,54.3 640.6,53.2 643.9,51.8 646.5,51.5 648.6,46.5 652.3,48.1 656.5,48.1 660.7,51.8 663.2,59.4 665.8,60.2 669.1,65.3 671.5,64.4 671.5,262.8 666.5,262.0 663.7,268.4 660.7,263.7 655.5,264.0 652.3,271.8 648.5,264.5 645.6,265.5 640.6,263.7 633.9,261.2 627.1,264.5 620.4,267.9 618.8,265.4 613.7,267.0 608.7,269.6 605.3,263.7 601.1,267.0 595.3,268.7 590.2,267.0 585.2,263.7 580.1,265.4 576.8,268.7 573.4,272.9 566.7,265.4 562.0,263.7 559.4,264.7 555.4,261.5 551.4,265.5 547.3,262.3 542.5,261.5 539.3,263.9 535.3,261.5 532.1,265.5 528.9,262.3 525.0,262.0 520.8,263.1 516.0,267.1 512.8,266.3 508.0,262.0 503.2,259.9 498.4,257.5 493.5,251.1 488.7,248.6 485.5,251.1 483.1,248.6 479.1,251.1 475.4,257.0 472.2,254.6 469.5,262.0 467.0,275.0 464.5,292.0 462.0,312.0 459.5,334.0" fill="rgb(189,33,42)" fill-opacity="0.32" stroke="rgb(189,33,42)" stroke-opacity="0.35" stroke-width="0.7" stroke-linejoin="round"/>
<polygon points="459.5,334.0 463.0,312.0 466.0,292.0 469.0,272.0 471.0,262.0 474.6,257.0 481.0,246.6 487.5,240.0 489.5,231.6 490.7,224.0 492.7,220.3 495.1,221.1 498.0,224.0 503.0,224.5 511.2,223.5 516.0,224.8 518.4,222.7 522.4,223.5 525.7,216.3 528.9,213.9 532.1,214.7 536.9,205.9 540.1,210.7 546.5,209.9 549.7,214.7 553.0,215.5 556.2,207.5 560.2,199.5 562.5,200.3 568.4,196.1 571.8,191.1 574.3,193.6 576.8,191.1 580.1,195.3 583.5,196.0 586.9,192.7 591.1,190.2 596.9,188.9 599.4,192.7 605.0,195.0 610.4,196.9 614.6,202.8 616.2,199.5 617.9,200.3 621.3,194.4 628.8,193.6 632.2,199.5 637.2,196.1 642.3,190.2 645.6,196.1 649.0,197.8 654.0,193.6 660.7,189.4 665.8,187.7 671.5,190.2 671.5,261.5 668.0,261.0 664.0,261.0 660.0,262.0 656.0,261.5 652.0,262.0 648.0,263.0 645.6,265.9 643.9,271.8 642.3,277.7 638.1,270.9 634.7,276.8 632.2,271.8 629.7,277.7 625.5,274.3 621.3,270.9 618.8,273.5 615.4,270.1 611.2,270.9 608.7,277.7 603.6,276.0 600.3,273.5 597.8,277.7 594.4,275.1 591.1,279.3 586.9,274.3 583.5,280.2 579.3,275.1 575.1,280.2 570.1,282.7 563.4,285.2 560.0,287.7 557.8,288.8 553.8,281.6 552.2,283.2 549.7,295.3 546.5,301.7 541.7,305.7 536.9,311.3 533.7,313.7 528.9,309.7 524.1,312.1 520.0,314.5 516.0,311.3 510.4,304.9 507.2,307.3 503.2,300.9 497.6,301.7 494.3,292.8 491.1,292.0 487.9,288.8 484.7,291.2 481.5,295.3 477.5,295.3 473.5,294.5 471.1,300.1 468.7,300.9 466.2,305.7 463.0,320.1 459.5,334.6" fill="rgb(14,210,192)" fill-opacity="0.27" stroke="rgb(14,210,192)" stroke-opacity="0.35" stroke-width="0.7" stroke-linejoin="round"/>
<polyline points="459.5,334.0 461.0,300.0 463.0,270.0 465.4,245.0 467.8,221.9 470.3,207.5 473.5,194.6 475.5,187.0 477.5,182.0 479.1,179.8 480.7,178.4 482.3,176.6 483.9,175.9 485.5,174.8 487.1,173.4 489.0,172.9 490.8,172.2 492.7,171.8 494.6,171.7 496.5,172.1 498.4,172.6 500.0,171.4 501.6,170.9 503.2,169.2 504.8,168.5 506.9,168.6 509.1,167.9 511.2,167.7 512.8,167.0 514.4,166.2 516.0,166.2 517.6,164.9 519.2,164.5 520.8,164.4 522.5,164.1 524.1,163.6 525.7,163.7 527.3,162.5 528.9,162.2 530.5,161.1 532.1,160.1 533.7,158.9 535.8,158.5 538.0,156.9 540.1,156.5 542.2,155.1 544.4,153.5 546.5,151.7 548.1,151.1 549.8,150.9 551.4,150.9 553.0,150.1 555.4,148.3 557.8,146.9 559.9,146.9 562.0,146.5 564.4,145.2 566.7,144.6 568.4,144.6 570.0,144.1 571.7,144.2 573.4,144.1 575.1,143.9 576.8,144.2 578.4,144.0 580.1,143.7 581.8,142.9 583.5,142.2 585.2,141.2 586.9,140.5 588.6,140.1 590.2,138.9 591.9,138.5 593.6,137.8 595.3,137.9 597.0,137.7 598.6,137.4 600.3,137.8 602.3,136.1 604.2,135.1 606.2,133.6 608.1,132.5 610.0,132.2 611.8,131.1 613.7,130.3 615.4,130.6 617.0,130.4 618.7,130.1 620.4,129.8 622.1,129.4 623.8,128.8 625.4,129.0 627.1,128.8 628.8,128.3 630.7,127.7 632.6,126.1 634.5,125.1 636.4,124.4 638.1,125.6 639.7,126.1 641.4,126.6 643.3,126.0 645.2,125.7 647.1,124.6 649.0,124.4 650.9,123.8 652.8,123.3 654.6,122.6 656.5,121.9 658.4,121.9 660.3,122.2 662.2,122.9 664.1,123.1 666.0,123.1 667.8,122.2 669.6,121.8 671.5,121.9" fill="none" stroke="#d62525" stroke-width="3.5" stroke-linejoin="round" stroke-linecap="butt"/>
<polyline points="459.5,334.0 462.5,300.0 466.0,272.0 470.8,247.5 474.3,238.8 477.5,235.2 479.1,234.1 480.7,234.0 482.3,232.9 483.9,232.3 485.5,231.6 487.6,231.6 489.8,230.8 491.9,230.3 493.5,230.5 495.2,231.2 496.8,231.4 498.9,231.5 501.1,232.2 503.2,232.9 504.8,233.1 506.4,232.7 508.0,232.7 509.6,233.2 511.2,233.2 512.8,233.2 514.4,233.9 516.0,233.3 517.6,234.1 519.2,234.0 520.8,234.1 522.4,234.6 524.1,234.4 525.7,234.8 527.3,234.8 528.9,234.7 530.5,234.7 532.1,235.0 533.7,235.1 535.3,235.2 536.9,234.5 538.5,234.2 540.1,234.1 541.7,234.0 543.3,233.4 544.9,233.3 546.5,233.3 548.2,233.0 549.8,232.8 551.4,232.4 553.0,231.8 554.6,231.1 556.2,230.7 557.8,230.5 559.4,230.2 561.3,229.4 563.1,229.3 565.0,228.7 566.7,227.6 568.4,227.2 570.1,226.1 571.8,225.9 573.4,225.6 575.1,225.3 576.8,224.8 578.4,224.4 580.1,224.1 581.8,223.7 583.5,223.3 585.2,223.8 586.8,223.4 588.5,222.8 590.2,223.0 591.9,223.1 593.6,222.6 595.3,222.3 596.9,221.9 598.6,221.4 600.3,221.9 602.0,221.2 603.7,220.6 605.3,220.4 607.0,220.6 608.7,219.5 610.4,219.5 612.0,219.1 613.7,218.8 615.4,218.2 617.1,218.5 618.7,217.7 620.4,217.1 622.1,217.2 623.8,216.4 625.4,216.7 627.1,216.2 628.8,216.0 630.5,215.6 632.1,214.3 633.8,214.4 635.5,213.7 637.2,213.6 638.9,213.8 640.5,213.8 642.2,213.8 643.9,214.1 645.6,213.3 647.3,213.3 648.9,212.3 650.6,212.6 652.3,211.7 654.0,211.0 655.7,211.6 657.3,210.6 659.0,210.3 660.7,210.4 662.5,210.3 664.3,209.9 666.1,209.8 667.9,209.3 669.7,209.1 671.5,208.7" fill="none" stroke="#f58024" stroke-width="3.5" stroke-linejoin="round" stroke-linecap="butt"/>
<polyline points="459.5,334.0 462.0,300.0 465.0,272.0 469.5,245.0 471.1,233.2 474.3,226.8 475.9,225.1 477.5,224.2 479.1,222.7 481.2,221.4 483.4,220.4 485.5,218.7 487.1,217.8 488.7,217.4 490.3,217.4 491.9,217.2 493.5,216.3 495.1,216.2 496.7,216.5 498.4,216.4 500.0,216.2 501.6,216.3 503.7,216.1 505.9,216.1 508.0,215.8 510.4,214.3 512.8,213.6 514.4,213.7 516.0,214.4 517.6,214.2 519.2,214.7 520.8,213.9 522.4,212.9 524.1,212.2 525.7,211.6 527.3,210.7 528.9,210.5 530.5,210.4 532.1,209.5 533.7,208.9 535.3,208.8 536.9,208.3 538.5,207.8 540.1,207.6 541.7,207.5 543.8,207.0 546.0,206.5 548.1,205.9 549.7,205.5 551.3,205.3 553.0,205.1 554.6,205.0 556.2,205.1 558.1,204.6 560.1,203.8 562.0,203.5 564.1,203.0 566.3,202.0 568.4,201.1 570.1,200.5 571.8,200.0 573.4,199.2 575.1,199.3 576.8,198.6 578.5,198.3 580.2,197.5 581.8,197.3 583.5,196.4 585.2,196.1 586.9,195.5 588.6,195.2 590.2,194.8 591.9,194.8 593.6,194.4 595.3,194.7 597.0,195.0 598.6,194.6 600.3,195.4 602.0,195.3 603.7,195.1 605.4,194.7 607.0,194.6 608.7,194.4 610.4,193.7 612.1,192.8 613.7,192.3 615.4,191.9 617.1,191.1 618.8,191.0 620.4,190.9 622.1,190.0 623.8,190.3 625.4,190.0 627.1,189.4 628.8,189.4 630.5,189.5 632.2,188.6 633.8,189.0 635.5,189.0 637.2,188.5 638.9,187.5 640.6,187.3 642.2,186.9 643.9,185.7 645.6,185.2 647.3,185.2 649.0,185.0 650.6,184.3 652.3,183.8 654.0,183.8 655.7,183.4 657.4,183.9 659.0,183.4 660.7,183.2 662.4,183.2 664.2,182.9 666.0,183.0 667.9,182.1 669.7,181.6 671.5,181.8" fill="none" stroke="#b8cc30" stroke-width="3.5" stroke-linejoin="round" stroke-linecap="butt"/>
<polyline points="459.5,334.0 462.0,310.0 465.4,288.0 467.8,280.0 471.1,274.3 473.5,272.7 475.9,270.3 477.5,269.1 479.1,268.2 480.7,267.7 482.3,266.3 483.9,265.6 485.5,264.9 487.1,264.7 489.2,264.8 491.4,263.9 493.5,263.9 495.1,263.1 496.8,263.2 498.4,262.3 500.0,261.5 501.6,261.6 503.2,260.7 504.8,259.9 506.4,259.3 508.0,258.6 509.6,258.3 511.7,257.5 513.9,256.8 516.0,255.9 518.1,254.7 520.3,253.8 522.4,252.7 524.0,252.1 525.6,252.2 527.3,251.9 528.9,251.1 531.0,251.9 533.2,252.5 535.3,252.7 536.9,251.5 538.5,250.9 540.1,250.0 541.7,249.5 543.8,248.4 546.0,248.3 548.1,247.0 549.7,246.8 551.4,246.2 553.0,245.3 554.6,244.6 556.7,243.9 558.9,243.8 561.0,243.5 562.9,243.1 564.7,243.9 566.5,243.3 568.4,243.5 570.1,243.4 571.8,244.1 573.4,243.5 575.1,244.2 576.8,243.9 578.5,243.5 580.2,243.6 581.8,242.8 583.5,243.3 585.2,242.7 586.9,242.4 588.6,242.2 590.2,242.4 591.9,242.1 593.6,241.9 595.3,241.5 597.0,241.2 598.6,241.4 600.3,240.8 602.0,241.0 603.7,241.2 605.4,240.7 607.0,240.4 608.7,240.4 610.4,240.5 612.1,239.8 613.8,239.7 615.4,239.5 617.1,239.1 618.8,238.8 620.5,238.8 622.1,238.8 623.8,239.1 625.4,239.5 627.1,239.3 628.8,239.2 630.5,239.5 632.1,239.3 633.8,239.0 635.5,239.3 637.2,238.7 638.9,239.0 640.5,238.3 642.2,237.9 643.9,237.7 645.6,237.2 647.3,237.0 648.9,236.0 650.6,235.5 652.3,235.1 654.0,235.4 655.6,235.5 657.3,236.4 659.0,236.8 660.7,236.9 662.4,237.0 664.1,237.1 665.8,237.2 667.7,237.0 669.6,237.1 671.5,236.8" fill="none" stroke="#33a532" stroke-width="3.5" stroke-linejoin="round" stroke-linecap="butt"/>
<polyline points="459.5,334.0 463.0,312.0 466.2,295.0 468.7,286.4 471.1,280.0 474.3,274.3 475.9,272.2 477.5,271.9 479.1,269.5 480.7,267.8 482.3,268.0 483.9,266.3 485.5,264.9 487.1,265.2 488.7,263.9 490.0,263.0 491.4,262.1 492.7,262.3 494.1,263.2 495.4,264.5 496.8,264.7 498.4,265.1 500.0,264.9 501.6,264.9 503.2,263.9 504.8,263.4 506.4,264.2 508.0,264.7 509.6,263.0 511.2,263.0 512.8,261.5 514.4,261.2 516.0,261.5 517.6,261.4 519.2,260.7 520.5,261.3 521.8,260.5 523.1,260.6 524.4,259.7 525.7,259.4 527.3,258.4 528.9,259.5 530.5,257.9 532.1,258.3 533.7,258.4 535.3,260.5 536.9,260.7 538.5,259.5 540.1,259.4 541.7,258.3 543.3,256.7 544.9,256.2 546.5,256.3 548.1,255.1 549.4,254.2 550.7,254.8 552.0,255.4 553.3,254.0 554.6,254.3 556.0,254.3 557.3,254.0 558.6,253.4 560.0,252.8 561.4,252.7 562.8,252.0 564.2,250.3 565.6,250.0 567.0,250.0 568.4,249.4 569.8,250.3 571.2,249.2 572.6,250.0 574.0,249.4 575.4,250.7 576.8,250.3 578.2,250.5 579.6,250.9 581.0,251.4 582.4,250.7 583.8,252.0 585.2,251.9 586.6,252.3 588.0,252.2 589.4,251.1 590.8,250.9 592.2,250.7 593.6,251.1 595.0,251.9 596.4,251.2 597.8,251.2 599.2,251.5 600.6,251.9 602.0,251.6 603.4,251.1 604.8,250.9 606.2,251.4 607.6,251.2 609.0,250.2 610.4,250.3 611.8,249.1 613.2,250.2 614.6,249.4 616.0,248.7 617.4,248.0 618.8,247.7 620.2,248.4 621.6,247.4 623.0,247.0 624.3,246.7 625.7,247.0 627.1,247.2 628.5,247.2 629.9,246.6 631.3,247.4 632.7,246.7 634.1,246.2 635.5,246.1 636.9,245.9 638.3,245.4 639.7,245.0 641.1,244.4 642.5,244.0 643.9,243.5 645.3,243.3 646.7,243.6 648.1,242.3 649.5,243.1 650.9,242.1 652.3,242.2 653.7,242.7 655.1,241.4 656.5,242.0 657.9,241.9 659.3,242.3 660.7,241.9 662.1,241.6 663.4,241.8 664.8,241.8 666.1,242.7 667.5,242.8 668.8,242.0 670.1,242.5 671.5,243.2" fill="none" stroke="#4dcdd6" stroke-width="3.5" stroke-linejoin="round" stroke-linecap="butt"/>
<polyline points="459.5,334.0 462.0,300.0 465.5,270.0 470.3,245.0 474.3,236.4 475.9,234.8 477.5,234.1 479.1,232.4 481.2,231.6 483.4,230.9 485.5,230.0 487.6,229.3 489.8,229.1 491.9,228.4 493.5,228.2 495.2,227.7 496.8,227.1 498.4,225.7 500.0,225.2 501.6,224.3 503.7,225.2 505.9,225.8 508.0,227.1 510.1,227.5 512.3,227.3 514.4,227.6 516.5,227.2 518.7,227.4 520.8,227.1 522.4,226.9 524.0,226.5 525.7,226.5 527.3,225.9 528.9,225.3 530.5,224.6 532.1,223.7 533.7,223.5 535.8,222.9 538.0,222.1 540.1,221.6 541.7,221.5 543.3,221.3 544.9,220.9 546.5,220.8 548.1,221.1 549.7,220.5 551.3,220.1 553.0,220.5 554.6,219.9 556.2,219.5 558.1,219.5 560.1,220.2 562.0,220.3 564.1,219.9 566.3,218.9 568.4,218.8 570.1,219.0 571.8,218.6 573.4,219.2 575.1,218.5 576.8,218.8 578.5,218.4 580.2,218.2 581.8,218.6 583.5,218.4 585.2,217.9 586.9,217.1 588.6,215.9 590.2,215.3 591.9,214.7 593.6,213.7 595.3,213.1 597.0,213.7 598.6,213.4 600.3,212.9 602.0,213.0 603.7,212.6 605.3,212.3 607.0,212.4 608.7,211.7 610.4,211.4 612.1,211.4 613.8,211.1 615.4,211.1 617.1,211.6 618.8,211.2 620.5,210.4 622.1,210.5 623.8,209.8 625.4,209.8 627.1,209.0 628.8,209.3 630.5,209.4 632.1,209.6 633.8,209.0 635.5,209.5 637.2,209.5 638.9,209.7 640.5,210.0 642.2,210.4 643.9,210.4 645.6,210.3 647.3,209.8 648.9,209.5 650.6,208.9 652.3,208.3 654.0,208.3 655.7,208.5 657.3,208.8 659.0,208.9 660.7,208.7 662.5,208.2 664.3,207.9 666.1,207.8 667.9,207.1 669.7,207.4 671.5,206.7" fill="none" stroke="#2f79b5" stroke-width="3.5" stroke-linejoin="round" stroke-linecap="butt"/>
</g>
<g stroke="#333" stroke-width="0.85" fill="none">
<rect x="33.2" y="29.0" width="212.8" height="310.3"/>
<rect x="246.0" y="29.0" width="213.0" height="310.3"/>
<rect x="459.0" y="29.0" width="212.6" height="310.3"/>
<line x1="75.8" y1="339.3" x2="75.8" y2="335.8"/>
<line x1="118.3" y1="339.3" x2="118.3" y2="335.8"/>
<line x1="160.9" y1="339.3" x2="160.9" y2="335.8"/>
<line x1="203.4" y1="339.3" x2="203.4" y2="335.8"/>
<line x1="33.2" y1="261.7" x2="36.7" y2="261.7"/>
<line x1="33.2" y1="184.2" x2="36.7" y2="184.2"/>
<line x1="33.2" y1="106.6" x2="36.7" y2="106.6"/>
<line x1="288.6" y1="339.3" x2="288.6" y2="335.8"/>
<line x1="331.2" y1="339.3" x2="331.2" y2="335.8"/>
<line x1="373.8" y1="339.3" x2="373.8" y2="335.8"/>
<line x1="416.4" y1="339.3" x2="416.4" y2="335.8"/>
<line x1="246.0" y1="261.7" x2="249.5" y2="261.7"/>
<line x1="246.0" y1="184.2" x2="249.5" y2="184.2"/>
<line x1="246.0" y1="106.6" x2="249.5" y2="106.6"/>
<line x1="501.5" y1="339.3" x2="501.5" y2="335.8"/>
<line x1="544.0" y1="339.3" x2="544.0" y2="335.8"/>
<line x1="586.6" y1="339.3" x2="586.6" y2="335.8"/>
<line x1="629.1" y1="339.3" x2="629.1" y2="335.8"/>
<line x1="671.6" y1="261.7" x2="668.1" y2="261.7"/>
<line x1="671.6" y1="184.2" x2="668.1" y2="184.2"/>
<line x1="671.6" y1="106.6" x2="668.1" y2="106.6"/>
</g>
<line x1="262.2" y1="41.6" x2="279.9" y2="41.6" stroke="#d62525" stroke-width="3.5"/>
<line x1="262.2" y1="57.6" x2="279.9" y2="57.6" stroke="#f58024" stroke-width="3.5"/>
<line x1="311.5" y1="41.6" x2="329.2" y2="41.6" stroke="#b8cc30" stroke-width="3.5"/>
<line x1="311.5" y1="57.6" x2="329.2" y2="57.6" stroke="#33a532" stroke-width="3.5"/>
<line x1="360.6" y1="41.6" x2="378.3" y2="41.6" stroke="#4dcdd6" stroke-width="3.5"/>
<line x1="360.6" y1="57.6" x2="378.3" y2="57.6" stroke="#2f79b5" stroke-width="3.5"/>
<line x1="409.7" y1="41.6" x2="427.4" y2="41.6" stroke="#9862d2" stroke-width="3.5"/>
</svg>
<div class="t ttl" style="left:134.2px;letter-spacing:0.6px">Ligand-free</div>
<div class="t ttl" style="left:347.1px;letter-spacing:-0.4px">DRV</div>
<div class="t ttl" style="left:563.1px;letter-spacing:0.2px">MA/CA</div>
<div class="t xt" style="left:33.2px">0</div>
<div class="t xt" style="left:75.8px">20</div>
<div class="t xt" style="left:118.3px">40</div>
<div class="t xt" style="left:160.9px">60</div>
<div class="t xt" style="left:203.4px">80</div>
<div class="t xt" style="left:246.0px">100</div>
<div class="t xt" style="left:288.6px">20</div>
<div class="t xt" style="left:331.2px">40</div>
<div class="t xt" style="left:373.8px">60</div>
<div class="t xt" style="left:416.4px">80</div>
<div class="t xt" style="left:459.0px">100</div>
<div class="t xt" style="left:501.5px">20</div>
<div class="t xt" style="left:544.0px">40</div>
<div class="t xt" style="left:586.6px">60</div>
<div class="t xt" style="left:629.1px">80</div>
<div class="t xt" style="left:671.6px">100</div>
<div class="t yt" style="top:339.8px">1</div>
<div class="t yt" style="top:262.2px">2</div>
<div class="t yt" style="top:184.7px">3</div>
<div class="t yt" style="top:107.1px">4</div>
<div class="t yt" style="top:29.5px">5</div>
<div class="t lg" style="left:285.3px;top:34.1px">u<sub>0</sub></div>
<div class="t lg" style="left:285.3px;top:50.1px">u<sub>1</sub></div>
<div class="t lg" style="left:334.6px;top:34.1px">u<sub>2</sub></div>
<div class="t lg" style="left:334.6px;top:50.1px">u<sub>3</sub></div>
<div class="t lg" style="left:383.7px;top:34.1px">u<sub>4</sub></div>
<div class="t lg" style="left:383.7px;top:50.1px">u<sub>5</sub></div>
<div class="t lg" style="left:432.8px;top:34.1px">u<sub>6</sub></div>
<div class="t xl">t (ps)</div>
<div class="t yl">d<sub>f</sub> (nm)</div>
</body></html>
